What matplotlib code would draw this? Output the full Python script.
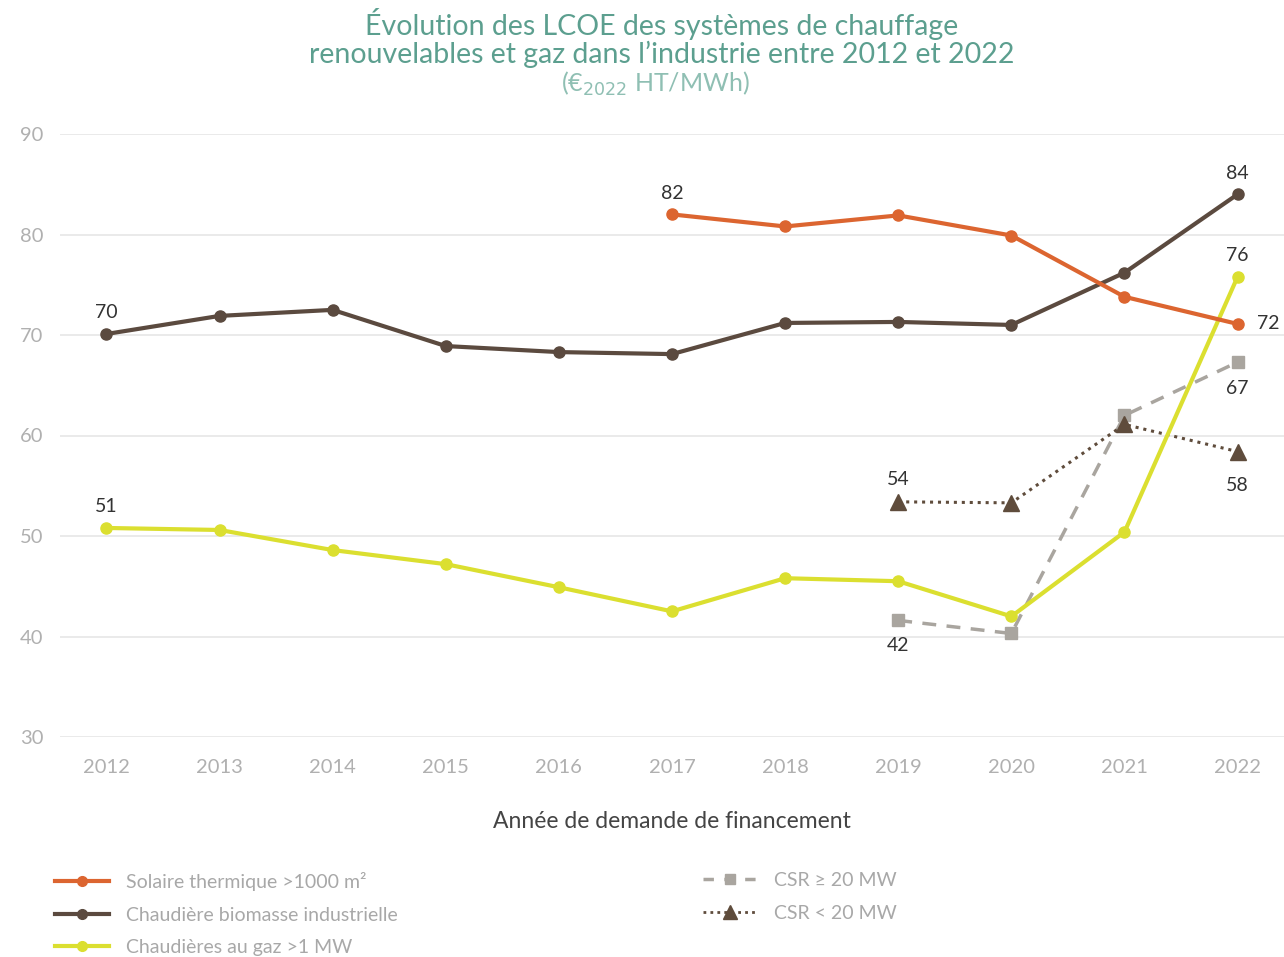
import matplotlib
matplotlib.use("Agg")
import matplotlib.pyplot as plt
from matplotlib.lines import Line2D

plt.rcParams['font.family'] = ['Lato', 'DejaVu Sans']

years = [2012, 2013, 2014, 2015, 2016, 2017, 2018, 2019, 2020, 2021, 2022]
solaire_years = [2017, 2018, 2019, 2020, 2021, 2022]
solaire = [82.0, 80.8, 81.9, 79.9, 73.8, 71.1]
biomasse = [70.1, 71.9, 72.5, 68.9, 68.3, 68.1, 71.2, 71.3, 71.0, 76.2, 84.0]
gaz = [50.8, 50.6, 48.6, 47.2, 44.9, 42.5, 45.8, 45.5, 42.0, 50.4, 75.8]
csr_years = [2019, 2020, 2021, 2022]
csr_big = [41.6, 40.3, 62.0, 67.3]
csr_small = [53.4, 53.3, 61.1, 58.4]
yticks = [30, 40, 50, 60, 70, 80, 90]

labels = ["Solaire thermique >1000 m²", "Chaudière biomasse industrielle",
          "Chaudières au gaz >1 MW", "CSR ≥ 20 MW", "CSR < 20 MW"]

c_sol = "#dc6530"
c_bio = "#5b4a3f"
c_gaz = "#dbdf30"
c_csrb = "#a9a59f"
c_csrs = "#5f4c3c"

fig = plt.figure(figsize=(12.84, 9.57), dpi=100)
ax = fig.add_axes([60/1284, 1-737/957, 1-60/1284, (737-134)/957])
ax.set_xlim(2011.59, 2022.41)
ax.set_ylim(30, 90)

ax.plot(csr_years, csr_big, color=c_csrb, lw=2.5, ls=(0, (4, 3)), marker='s', ms=8,
        mfc=c_csrb, mec=c_csrb, zorder=3, clip_on=False)
ax.plot(csr_years, csr_small, color=c_csrs, lw=2.2, ls=(0, (1, 1.6)), marker='^', ms=11,
        mfc=c_csrs, mec=c_csrs, zorder=3, clip_on=False)
ax.plot(years, gaz, color=c_gaz, lw=3, marker='o', ms=8, zorder=4, clip_on=False)
ax.plot(years, biomasse, color=c_bio, lw=3, marker='o', ms=8, zorder=5, clip_on=False)
ax.plot(solaire_years, solaire, color=c_sol, lw=3, marker='o', ms=8, zorder=5, clip_on=False)

ax.set_yticks(yticks)
ax.set_xticks(years)
ax.set_xticklabels([str(y) for y in years])
ax.grid(axis='y', color='#e6e6e6', lw=1.2)
ax.set_axisbelow(True)
for s in ax.spines.values():
    s.set_visible(False)
ax.tick_params(length=0, colors='#b5b5b5', labelsize=14.5)
ax.tick_params(axis='y', pad=12)
ax.tick_params(axis='x', pad=16)
for t in ax.get_xticklabels() + ax.get_yticklabels():
    t.set_color('#b0b0b0')
ax.set_xlabel("Année de demande de financement", fontsize=16.5, color='#444444', labelpad=25)

# data labels
lab_kw = dict(textcoords='offset points', ha='center', fontsize=14, color='#333333')
ax.annotate("82", (2017, solaire[0]), xytext=(0, 9), va='bottom', **lab_kw)
ax.annotate("70", (2012, biomasse[0]), xytext=(0, 9), va='bottom', **lab_kw)
ax.annotate("51", (2012, gaz[0]), xytext=(0, 9), va='bottom', **lab_kw)
ax.annotate("84", (2022, biomasse[-1]), xytext=(0, 9), va='bottom', **lab_kw)
ax.annotate("76", (2022, gaz[-1]), xytext=(0, 9), va='bottom', **lab_kw)
ax.annotate("72", (2022, solaire[-1]), xytext=(22, 0), va='center', **lab_kw)
ax.annotate("67", (2022, csr_big[-1]), xytext=(0, -13), va='top', **lab_kw)
ax.annotate("58", (2022, csr_small[-1]), xytext=(0, -18), va='top', **lab_kw)
ax.annotate("54", (2019, csr_small[0]), xytext=(0, 10), va='bottom', **lab_kw)
ax.annotate("42", (2019, csr_big[0]), xytext=(0, -12), va='top', **lab_kw)

# title
tx = 662 / 1284
fig.text(tx, 1-24/957, "Évolution des LCOE des systèmes de chauffage", ha='center', va='center',
         fontsize=20.5, color='#5c9f8f')
fig.text(tx, 1-54/957, "renouvelables et gaz dans l’industrie entre 2012 et 2022", ha='center',
         va='center', fontsize=20.5, color='#5c9f8f')
fig.text(655/1284, 1-84/957, r"(€$_{2022}$ HT/MWh)", ha='center', va='center',
         fontsize=18, color='#8fbfb3')

# legends
h1 = [Line2D([], [], color=c_sol, lw=3, marker='o', ms=7),
      Line2D([], [], color=c_bio, lw=3, marker='o', ms=7),
      Line2D([], [], color=c_gaz, lw=3, marker='o', ms=7)]
h2 = [Line2D([], [], color=c_csrb, lw=2.5, ls=(0, (3, 3)), marker='s', ms=7),
      Line2D([], [], color=c_csrs, lw=2, ls=(0, (1, 1.5)), marker='^', ms=10)]
leg_kw = dict(loc='upper left', frameon=False, fontsize=14, handlelength=2.8,
              labelspacing=0.8, handletextpad=0.87, borderpad=0, borderaxespad=0)
leg1 = fig.legend(h1, labels[:3], bbox_to_anchor=(55/1284, 1-872/957), **leg_kw)
for t in leg1.get_texts():
    t.set_color('#a8a8a8')
leg2 = fig.legend(h2, labels[3:], bbox_to_anchor=(703/1284, 1-872/957), **leg_kw)
for t in leg2.get_texts():
    t.set_color('#a8a8a8')

fig.savefig("out.png", dpi=100)
